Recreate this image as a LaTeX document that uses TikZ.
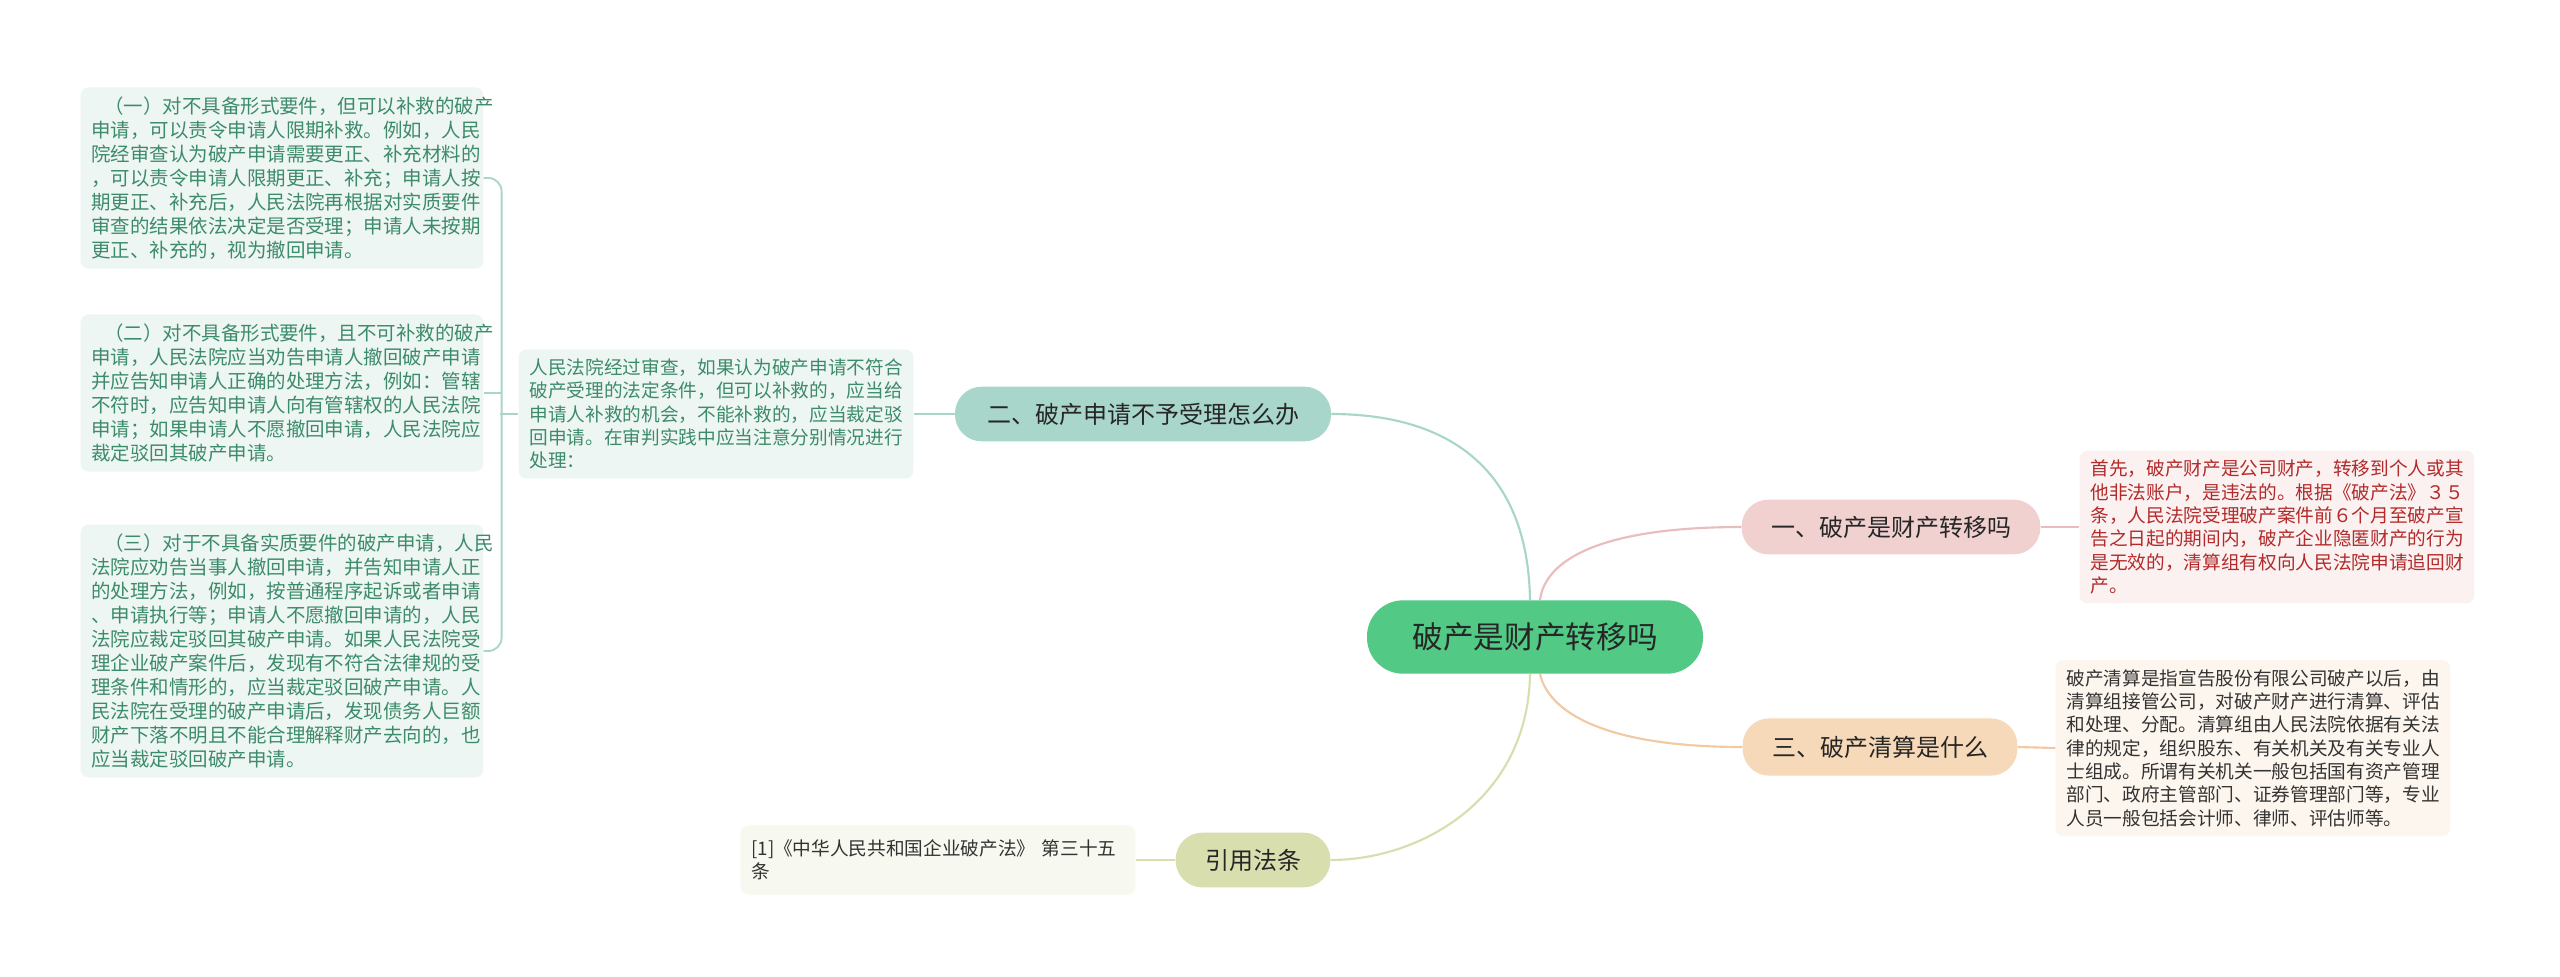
\documentclass[tikz,border=0pt]{standalone}
\usepackage{fontspec}
\setmainfont{Noto Sans CJK SC}
\usetikzlibrary{calc}
\definecolor{cgreen}{HTML}{52C985}
\definecolor{cteal}{HTML}{A9D6CA}
\definecolor{cpink}{HTML}{F1D0D0}
\definecolor{corange}{HTML}{F6D9B8}
\definecolor{colive}{HTML}{D9DEAE}
\definecolor{lpink}{HTML}{EBBCBC}
\definecolor{lorange}{HTML}{F2C9A3}
\definecolor{gfill}{HTML}{EEF6F3}
\definecolor{gtext}{HTML}{3C8B6A}
\definecolor{rfill}{HTML}{FBF1F1}
\definecolor{rtext}{HTML}{B22A2A}
\definecolor{bfill}{HTML}{FDF6EE}
\definecolor{ofill}{HTML}{F7F8EF}
\begin{document}
\begin{tikzpicture}[x=0.75pt,y=-0.75pt,
  tbox/.style={rounded corners=6pt,inner xsep=8pt,inner ysep=7pt,align=left,anchor=center},
  lbox/.style={tbox,fill=gfill,text=gtext,text width=286pt,font=\fontsize{14.6}{18}\selectfont},
  sbox/.style={tbox,text width=280pt,font=\fontsize{14}{17.5}\selectfont},
  branch/.style={rounded corners=20pt,anchor=center,text=black!85,font=\fontsize{18}{20}\selectfont,inner sep=0pt},
  conn/.style={line width=1.6pt}]
\useasboundingbox (0,0) rectangle (2560,976);
\fill[white] (0,0) rectangle (2560,976);

\node[branch,fill=cgreen,minimum width=252pt,minimum height=55pt,rounded corners=27pt,font=\fontsize{23}{25}\selectfont] (c) at (1535,637) {破产是财产转移吗};
\node[branch,fill=cteal,minimum width=282pt,minimum height=41pt] (n2) at (1143,414) {二、破产申请不予受理怎么办};
\node[branch,fill=cpink,minimum width=224pt,minimum height=41pt] (n1) at (1891,527) {一、破产是财产转移吗};
\node[branch,fill=corange,minimum width=206pt,minimum height=43pt] (n3) at (1880,747) {三、破产清算是什么};
\node[branch,fill=colive,minimum width=116pt,minimum height=41pt] (r) at (1253,860) {引用法条};

\node[lbox] (b1) at (282,178) {\ \ （一）对不具备形式要件，但可以补救的破产\\申请，可以责令申请人限期补救。例如，人民\\院经审查认为破产申请需要更正、补充材料的\\，可以责令申请人限期更正、补充；申请人按\\期更正、补充后，人民法院再根据对实质要件\\审查的结果依法决定是否受理；申请人未按期\\更正、补充的，视为撤回申请。};
\node[lbox] (b2) at (282,393) {\ \ （二）对不具备形式要件，且不可补救的破产\\申请，人民法院应当劝告申请人撤回破产申请\\并应告知申请人正确的处理方法，例如：管辖\\不符时，应告知申请人向有管辖权的人民法院\\申请；如果申请人不愿撤回申请，人民法院应\\裁定驳回其破产申请。};
\node[lbox] (b3) at (282,651) {\ \ （三）对于不具备实质要件的破产申请，人民\\法院应劝告当事人撤回申请，并告知申请人正\\的处理方法，例如，按普通程序起诉或者申请\\、申请执行等；申请人不愿撤回申请的，人民\\法院应裁定驳回其破产申请。如果人民法院受\\理企业破产案件后，发现有不符合法律规的受\\理条件和情形的，应当裁定驳回破产申请。人\\民法院在受理的破产申请后，发现债务人巨额\\财产下落不明且不能合理解释财产去向的，也\\应当裁定驳回破产申请。};

\node[sbox,fill=gfill,text=gtext] (m) at (716,414) {人民法院经过审查，如果认为破产申请不符合\\破产受理的法定条件，但可以补救的，应当给\\申请人补救的机会，不能补救的，应当裁定驳\\回申请。在审判实践中应当注意分别情况进行\\处理：};
\node[sbox,fill=rfill,text=rtext] (rt) at (2277,527) {首先，破产财产是公司财产，转移到个人或其\\他非法账户，是违法的。根据《破产法》３５\\条，人民法院受理破产案件前６个月至破产宣\\告之日起的期间内，破产企业隐匿财产的行为\\是无效的，清算组有权向人民法院申请追回财\\产。};
\node[sbox,fill=bfill,text=black!80] (bt) at (2253,748) {破产清算是指宣告股份有限公司破产以后，由\\清算组接管公司，对破产财产进行清算、评估\\和处理、分配。清算组由人民法院依据有关法\\律的规定，组织股东、有关机关及有关专业人\\士组成。所谓有关机关一般包括国有资产管理\\部门、政府主管部门、证券管理部门等，专业\\人员一般包括会计师、律师、评估师等。};
\node[sbox,fill=ofill,text=black!80,minimum height=52pt] (ft) at (938,860) {[1]《中华人民共和国企业破产法》 第三十五\\条};

% main connectors
\begin{scope}[on background layer/.style={}]
\draw[conn,cteal] ($(c.north)+(-5,0)$) .. controls (1528,470) and (1450,414) .. (n2.east);
\draw[conn,lpink] ($(c.north)+(5,0)$) .. controls (1545,560) and (1600,527) .. (n1.west);
\draw[conn,colive] ($(c.south)+(-5,0)$) .. controls (1528,800) and (1420,860) .. (r.east);
\draw[conn,lorange] ($(c.south)+(5,0)$) .. controls (1548,710) and (1600,747) .. (n3.west);
\end{scope}
\draw[conn,cteal] (m.east) -- (n2.west);
\draw[conn,lpink] (n1.east) -- (rt.west);
\draw[conn,lorange] (n3.east) -- (bt.west);
\draw[conn,colive] (r.west) -- (ft.east);

% bracket
\coordinate (bx) at (500,414);
\draw[line width=1.4pt,cteal,rounded corners=10pt] (b1.east) -| ($(b3.east)+(18,0)$) -- (b3.east);
\draw[line width=1.4pt,cteal] (b2.east) -- ++(18,0);
\draw[line width=1.4pt,cteal] (m.west) -- (bx);
\end{tikzpicture}
\end{document}
